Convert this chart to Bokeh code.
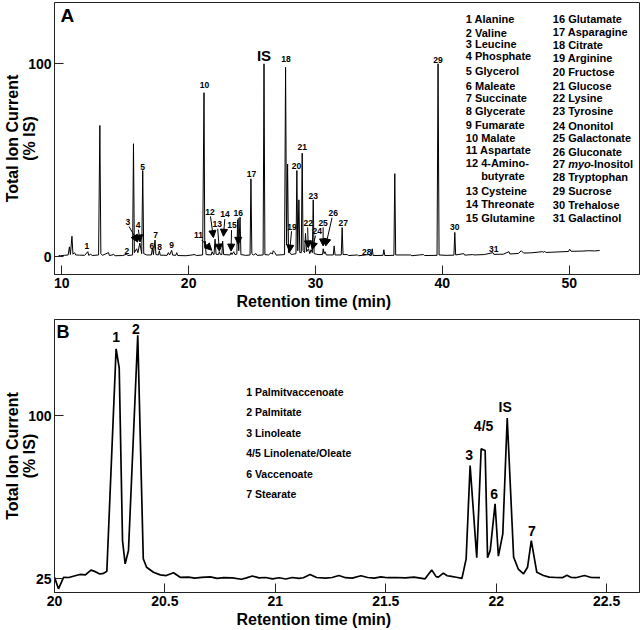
from bokeh.plotting import figure
from bokeh.layouts import column
from bokeh.models import (Label, Arrow, NormalHead, FixedTicker, Range1d, LinearAxis, Title,
                          ColumnDataSource, CustomJSTickFormatter)
from bokeh.core.properties import value
from bokeh.embed import file_html
from bokeh.resources import INLINE

FONT = "Liberation Sans"

# ---------------- Panel A data (retention time in min, TIC in % IS) ----------------
rt_a = [9.75, 9.9, 10.2, 10.5, 10.6, 10.68, 10.8, 10.88, 11.0, 11.1, 11.4, 11.8,
        12.05, 12.12, 12.28, 12.4, 12.9, 13.0, 13.08, 13.2, 13.68, 13.75, 14.1, 14.2,
        14.8, 15.12, 15.2, 15.58, 15.65, 15.72, 15.9, 16.0, 16.15, 16.3, 16.38, 16.46,
        16.7, 17.06, 17.14, 17.22, 17.35, 17.42, 17.62, 17.69, 17.76, 18.3, 18.4, 18.5,
        18.66, 18.74, 18.98, 19.06, 19.14, 19.8, 20.5, 20.6, 21.1, 21.21, 21.27, 21.3,
        21.38, 21.78, 21.85, 21.95, 22.0, 22.08, 22.16, 22.35, 22.42, 22.5, 22.62, 22.68,
        22.76, 23.27, 23.34, 23.42, 23.55, 23.65, 23.8, 23.86, 23.95, 24.05, 24.12, 24.5,
        24.84, 24.91, 24.98, 25.1, 25.3, 25.4, 25.87, 25.94, 26.01, 26.3, 26.5, 26.6,
        26.67, 26.8, 26.9, 27.56, 27.64, 27.72, 27.8, 27.87, 28.0, 28.1, 28.46, 28.53,
        28.6, 28.69, 28.76, 28.88, 28.95, 29.02, 29.14, 29.21, 29.3, 29.45, 29.55, 29.65,
        29.75, 29.82, 29.89, 30.2, 30.55, 30.61, 30.68, 30.75, 30.85, 31.4, 31.47, 31.54,
        32.03, 32.1, 32.17, 32.5, 32.6, 33.3, 33.4, 34.2, 34.3, 34.4, 34.47, 34.54,
        35.32, 35.39, 35.46, 36.18, 36.25, 36.32, 37.5, 37.6, 38.5, 38.6, 39.58, 39.66,
        39.74, 40.3, 40.91, 40.98, 41.05, 41.69, 41.76, 42.4, 42.5, 43.3, 43.99, 44.06,
        44.8, 45.25, 45.32, 46.0, 46.22, 46.4, 47.0, 47.9, 47.98, 48.05, 48.15, 49.2,
        49.95, 50.03, 50.15, 51.0, 51.5, 52.0, 52.4]
tic_a = [0.5, 0.4, 0.6, 0.8, 5.0, 1.0, 10.5, 1.2, 2.0, 0.8, 0.7, 0.6,
         2.5, 0.6, 1.2, 0.5, 0.8, 68.0, 1.5, 0.6, 2.0, 0.5, 1.0, 0.4,
         0.5, 1.2, 0.5, 0.8, 58.5, 2.0, 4.0, 2.0, 7.0, 1.5, 44.6, 1.5,
         0.8, 0.8, 4.5, 1.0, 8.5, 1.0, 0.8, 3.0, 0.7, 0.6, 2.0, 0.8,
         3.2, 0.7, 0.6, 2.0, 0.5, 0.4, 1.0, 0.5, 0.8, 85.0, 5.0, 8.0,
         1.0, 0.8, 2.5, 1.0, 1.0, 9.0, 1.2, 1.0, 2.5, 1.0, 1.0, 8.0,
         1.0, 0.8, 2.0, 1.0, 2.5, 1.0, 1.2, 19.0, 3.0, 20.4, 1.0, 0.6,
         0.8, 40.3, 1.5, 0.8, 1.5, 0.6, 0.8, 100.0, 1.0, 0.8, 2.0, 1.2,
         3.0, 2.0, 0.7, 1.0, 98.2, 6.0, 48.0, 2.0, 2.0, 1.0, 1.5, 44.6,
         3.0, 29.4, 2.0, 2.0, 53.6, 3.0, 2.0, 12.0, 2.5, 4.0, 1.5, 3.5,
         2.0, 29.4, 1.5, 1.0, 1.0, 4.0, 1.5, 2.5, 0.8, 0.8, 5.5, 0.8,
         0.8, 15.0, 1.0, 1.0, 0.5, 0.8, 0.4, 1.0, 0.5, 0.5, 4.0, 0.5,
         0.6, 3.5, 0.5, 0.6, 43.0, 0.8, 0.8, 0.4, 1.0, 0.5, 0.6, 100.0,
         0.8, 0.6, 0.7, 12.5, 0.8, 1.5, 0.7, 1.0, 0.8, 1.0, 2.0, 1.1,
         1.2, 2.5, 1.3, 1.6, 3.0, 1.8, 1.9, 2.5, 2.1, 2.8, 2.1, 2.4,
         2.6, 3.8, 2.7, 2.8, 3.0, 2.9, 3.1]

peak_ids_a = ["1", "2", "3", "4", "5", "6", "7", "8", "9", "10", "11", "12", "13", "14",
              "15", "16", "17", "18", "19", "20", "21", "22", "23", "24", "25", "26",
              "27", "28", "29", "30", "31"]
peak_lab_rt = [11.97, 15.12, 15.2, 16.01, 16.38, 17.09, 17.4, 17.72, 18.66, 21.25, 20.78,
               21.68, 22.26, 22.87, 23.42, 23.91, 24.96, 27.67, 28.14, 28.5, 28.95, 29.43,
               29.82, 30.13, 30.6, 31.39, 32.18, 34.04, 39.66, 40.98, 44.05]
peak_lab_tic = [5.2, 3.0, 17.8, 16.1, 46.7, 5.5, 11.0, 4.9, 6.1, 89.0, 10.9, 23.2, 16.8,
                21.8, 16.1, 22.4, 42.9, 102.6, 15.5, 47.0, 57.0, 17.5, 31.5, 13.0, 17.5,
                22.5, 17.5, 2.4, 102.2, 15.2, 3.8]
is_lab_a = (25.94, 104.3)

# arrows: label -> peak
arr_x0 = [15.30, 16.04, 21.02, 21.72, 22.29, 22.85, 23.38, 23.91, 28.11, 29.38, 30.00, 30.60, 31.30]
arr_y0 = [15.6, 13.9, 8.6, 20.8, 14.4, 19.4, 13.7, 19.9, 13.1, 15.1, 10.8, 15.1, 20.1]
arr_x1 = [15.98, 16.17, 21.82, 21.95, 22.42, 22.74, 23.34, 23.91, 27.96, 29.43, 29.74, 30.60, 30.80]
arr_y1 = [7.5, 7.5, 3.2, 9.8, 2.8, 10.5, 2.8, 6.3, 2.3, 4.5, 3.6, 5.5, 5.5]

names_col1 = ["1 Alanine", "2 Valine", "3 Leucine", "4 Phosphate", "5 Glycerol",
              "6 Maleate", "7 Succinate", "8 Glycerate", "9 Fumarate", "10 Malate",
              "11 Aspartate", "12 4-Amino-", "butyrate", "13 Cysteine", "14 Threonate",
              "15 Glutamine"]
names_col2 = ["16 Glutamate", "17 Asparagine", "18 Citrate", "19 Arginine", "20 Fructose",
              "21 Glucose", "22 Lysine", "23 Tyrosine", "24 Ononitol", "25 Galactonate",
              "26 Gluconate", "27 ", "28 Tryptophan", "29 Sucrose", "30 Trehalose",
              "31 Galactinol"]
rows_col1 = [123.0, 116.2, 110.2, 103.8, 96.2, 88.7, 82.2, 75.7, 68.1, 61.7, 55.2, 48.6,
             41.7, 33.9, 27.0, 20.1]
rows_col2 = [123.0, 116.4, 109.5, 102.9, 95.6, 88.7, 82.2, 75.5, 67.9, 61.4, 54.3, 48.1,
             41.2, 33.9, 26.8, 20.1]

# ---------------- Panel B data ----------------
rt_b = [20.0, 20.018, 20.041, 20.065, 20.085, 20.115, 20.14, 20.165, 20.185, 20.205, 20.222,
        20.237, 20.279, 20.293, 20.308, 20.32, 20.335, 20.377, 20.402, 20.417, 20.448,
        20.479, 20.506, 20.539, 20.569, 20.606, 20.636, 20.666, 20.706, 20.736, 20.766,
        20.806, 20.846, 20.866, 20.896, 20.926, 20.956, 20.987, 21.017, 21.047, 21.077,
        21.107, 21.127, 21.157, 21.187, 21.227, 21.257, 21.288, 21.318, 21.348, 21.388,
        21.418, 21.448, 21.478, 21.508, 21.548, 21.588, 21.628, 21.678, 21.708, 21.728,
        21.738, 21.761, 21.778, 21.791, 21.819, 21.845, 21.864, 21.882, 21.912, 21.932,
        21.95, 21.961, 21.973, 21.995, 22.01, 22.03, 22.05, 22.079, 22.1, 22.124, 22.142,
        22.159, 22.184, 22.214, 22.24, 22.27, 22.3, 22.32, 22.34, 22.36, 22.4, 22.43, 22.47]
tic_b = [25.7, 20.4, 25.7, 25.6, 26.2, 27.0, 26.8, 29.0, 28.3, 27.2, 27.5,
         28.5, 130.8, 122.0, 42.6, 31.9, 38.0, 137.0, 34.2, 30.3, 28.0,
         26.8, 26.5, 27.8, 25.7, 25.8, 25.3, 25.7, 25.9, 25.2, 25.5,
         25.4, 24.8, 25.3, 26.3, 25.4, 25.6, 25.0, 25.5, 24.9, 25.6,
         25.2, 25.5, 27.0, 25.6, 25.3, 25.6, 26.5, 25.5, 25.3, 26.4,
         25.6, 25.3, 25.9, 25.5, 25.6, 25.4, 25.8, 25.0, 29.1, 26.0,
         25.8, 27.6, 26.4, 26.2, 25.7, 25.2, 34.2, 77.1, 34.7, 84.8,
         84.0, 34.7, 38.0, 59.5, 35.4, 45.7, 99.0, 35.0, 29.5, 27.3, 30.3,
         42.6, 28.0, 26.5, 25.8, 25.6, 25.5, 26.6, 25.6, 25.5, 26.5, 25.6, 25.5]

fa_ids = ["1", "2", "3", "4/5", "IS", "6", "7"]
fa_lab_rt = [20.279, 20.368, 21.878, 21.943, 22.041, 21.991, 22.162]
fa_lab_tic = [136.2, 140.0, 81.8, 95.5, 104.0, 63.8, 46.9]
fa_names = ["1 Palmitvaccenoate", "2 Palmitate", "3 Linoleate", "4/5 Linolenate/Oleate",
            "6 Vaccenoate", "7 Stearate"]
fa_rows = [111.0, 101.6, 92.2, 82.8, 73.3, 64.1]

ticks_xa = [10, 20, 30, 40, 50]
ticks_ya = [0, 100]
ticks_xb = [20, 20.5, 21, 21.5, 22, 22.5]
ticks_yb = [25, 100]

# ---------------- layout constants ----------------
FW = 585
XA0, XA1 = 9.4245, 55.54
YA0, YA1 = -9.34, 131.8
FHA = 272
XB0, XB1 = 20.0, 22.649
YB0, YB1 = 18.7, 144.3
FHB = 273
DARK = "#222222"


def style(p, xt, yt):
    p.outline_line_color = DARK
    p.outline_line_width = 1
    p.xgrid.visible = False
    p.ygrid.visible = False
    p.background_fill_color = "white"
    p.border_fill_color = "white"
    for ax in (p.xaxis[0], p.yaxis[0]):
        ax.major_tick_in = 9
        ax.major_tick_out = 0
        ax.minor_tick_line_color = None
        ax.axis_line_color = DARK
        ax.major_tick_line_color = DARK
        ax.major_label_text_font = FONT
        ax.major_label_text_font_style = "bold"
        ax.major_label_text_font_size = "14px"
        ax.major_label_text_color = "black"
        ax.major_label_standoff = 3
    p.xaxis.ticker = FixedTicker(ticks=xt)
    p.yaxis.ticker = FixedTicker(ticks=yt)
    p.xaxis.formatter = CustomJSTickFormatter(code="return String(tick)")
    # inner y title line
    ya = p.yaxis[0]
    ya.axis_label = "(% IS)"
    ya.axis_label_standoff = -13
    ya.axis_label_text_font = FONT
    ya.axis_label_text_font_style = "bold"
    ya.axis_label_text_font_size = "16px"
    ya.axis_label_text_color = "black"
    # outer y title line
    outer = LinearAxis(ticker=FixedTicker(ticks=[]), axis_label="Total Ion Current",
                       axis_label_standoff=-2, axis_line_color=None,
                       major_tick_line_color=None, minor_tick_line_color=None,
                       major_tick_in=0, major_tick_out=0,
                       axis_label_text_font=FONT, axis_label_text_font_style="bold",
                       axis_label_text_font_size="16px", axis_label_text_color="black")
    p.add_layout(outer, "left")
    # x title, shifted left of frame centre as in the reference
    p.add_layout(Title(text="Retention time (min)", align="left", offset=182, standoff=0,
                       text_font=FONT, text_font_style="bold", text_font_size="16px",
                       text_color="black"), "below")


def lab(p, x, y, text, size, align="left", style_="bold"):
    p.add_layout(Label(x=x, y=y, text=text, text_font=FONT, text_font_size=size,
                       text_font_style=style_, text_align=align, text_baseline="middle",
                       text_color="black"))


# ---------------- Panel A ----------------
pA = figure(frame_width=FW, frame_height=FHA, x_range=Range1d(XA0, XA1),
            y_range=Range1d(YA0, YA1), output_backend="svg", toolbar_location=None,
            min_border_left=51, min_border_right=4, min_border_top=2, min_border_bottom=38)
style(pA, ticks_xa, ticks_ya)
sxA = FW / (XA1 - XA0)

pA.line(rt_a, tic_a, line_color="black", line_width=1)

srcA = ColumnDataSource(dict(x=peak_lab_rt, y=peak_lab_tic, t=peak_ids_a))
pA.text(x="x", y="y", text="t", source=srcA, text_font=value(FONT), text_font_size="8.5px",
        text_font_style="bold", text_align="center", text_baseline="middle", text_color="black")
lab(pA, is_lab_a[0], is_lab_a[1], "IS", "15px", align="center")

arrsrc = ColumnDataSource(dict(x0=arr_x0, y0=arr_y0, x1=arr_x1, y1=arr_y1))
pA.add_layout(Arrow(source=arrsrc, x_start="x0", y_start="y0", x_end="x1", y_end="y1",
                    line_color="black", line_width=1,
                    end=NormalHead(size=7, fill_color="black", line_color="black")))

col1_x = 41.85
col2_x = 48.71
for name, yv in zip(names_col1, rows_col1):
    xx = col1_x + (15.3 / sxA if name == "butyrate" else 0)
    lab(pA, xx, yv, name, "11px")
for name, yv in zip(names_col2, rows_col2):
    lab(pA, col2_x, yv, name, "11px")
    if name.startswith("27"):
        lab(pA, col2_x + 15.3 / sxA, yv, "myo", "11px", style_="bold italic")
        lab(pA, col2_x + 37.4 / sxA, yv, "-Inositol", "11px")

lab(pA, 9.9, 125.0, "A", "19px")

# ---------------- Panel B ----------------
pB = figure(frame_width=FW, frame_height=FHB, x_range=Range1d(XB0, XB1),
            y_range=Range1d(YB0, YB1), output_backend="svg", toolbar_location=None,
            min_border_left=51, min_border_right=4, min_border_top=7, min_border_bottom=38)
style(pB, ticks_xb, ticks_yb)
sxB = FW / (XB1 - XB0)

pB.line(rt_b, tic_b, line_color="black", line_width=1.7)
srcB = ColumnDataSource(dict(x=fa_lab_rt, y=fa_lab_tic, t=fa_ids))
pB.text(x="x", y="y", text="t", source=srcB, text_font=value(FONT), text_font_size="14px",
        text_font_style="bold", text_align="center", text_baseline="middle", text_color="black")
for name, yv in zip(fa_names, fa_rows):
    lab(pB, 20.868, yv, name, "10.5px")

lab(pB, XB0 + 2 / sxB, 138.5, "B", "18px")

layout = column(pA, pB)
open("out.html", "w").write(file_html(layout, INLINE))
